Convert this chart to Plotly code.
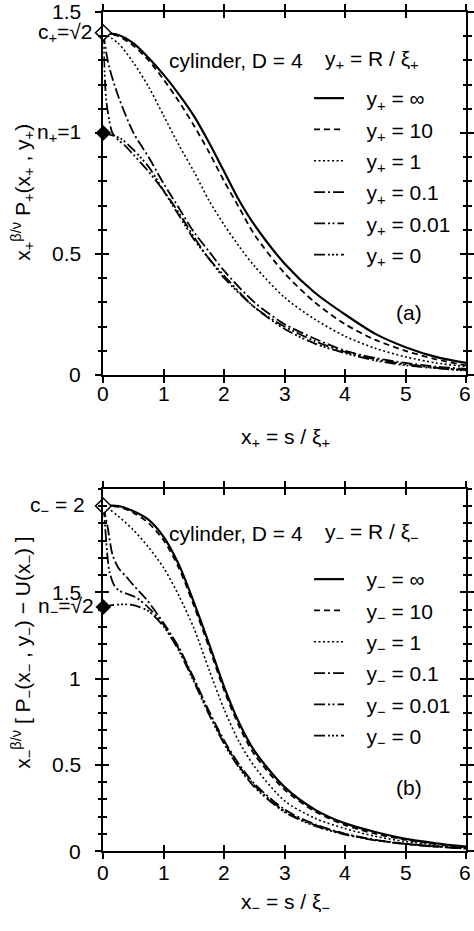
import plotly.graph_objects as go

W, H = 474, 931

# ---------------- data ----------------
x_ticks = [0, 1, 2, 3, 4, 5, 6]
a_yticks = [0, 0.5, 1, 1.5]
a_yticktext = ["0", "0.5", "n<sub>+</sub>=1", "1.5"]
b_yticks = [0, 0.5, 1, 1.5]
b_yticktext = ["0", "0.5", "1", "1.5"]
legend_plus = ["y<sub>+</sub> = ∞", "y<sub>+</sub> = 10", "y<sub>+</sub> = 1",
               "y<sub>+</sub> = 0.1", "y<sub>+</sub> = 0.01", "y<sub>+</sub> = 0"]
legend_minus = ["y<sub>−</sub> = ∞", "y<sub>−</sub> = 10", "y<sub>−</sub> = 1",
                "y<sub>−</sub> = 0.1", "y<sub>−</sub> = 0.01", "y<sub>−</sub> = 0"]

# panel (a)
a_inf_x = [0, 0.25, 0.5, 0.75, 1, 1.25, 1.5, 1.75, 2, 2.25, 2.5, 3, 3.5, 4, 4.5, 5, 5.5, 6]
a_inf_y = [1.414, 1.405, 1.37, 1.31, 1.24, 1.16, 1.07, 0.96, 0.84, 0.72, 0.62, 0.46, 0.34, 0.25, 0.17, 0.115, 0.075, 0.05]
a_10_x = [0, 0.25, 0.5, 0.75, 1, 1.25, 1.5, 1.75, 2, 2.25, 2.5, 3, 3.5, 4, 4.5, 5, 5.5, 6]
a_10_y = [1.414, 1.40, 1.36, 1.30, 1.22, 1.13, 1.03, 0.92, 0.80, 0.69, 0.58, 0.42, 0.30, 0.21, 0.145, 0.10, 0.065, 0.04]
a_1_x = [0, 0.25, 0.5, 0.75, 1, 1.25, 1.5, 1.75, 2, 2.25, 2.5, 3, 3.5, 4, 4.5, 5, 5.5, 6]
a_1_y = [1.414, 1.37, 1.29, 1.19, 1.07, 0.95, 0.84, 0.72, 0.62, 0.53, 0.45, 0.32, 0.23, 0.16, 0.11, 0.075, 0.05, 0.035]
a_01_x = [0, 0.05, 0.1, 0.25, 0.5, 0.75, 1, 1.25, 1.5, 1.75, 2, 2.5, 3, 3.5, 4, 4.5, 5, 5.5, 6]
a_01_y = [1.414, 1.33, 1.27, 1.15, 1.00, 0.90, 0.79, 0.69, 0.59, 0.51, 0.43, 0.30, 0.21, 0.15, 0.10, 0.07, 0.05, 0.035, 0.025]
a_001_x = [0, 0.02, 0.05, 0.1, 0.15, 0.25, 0.35, 0.5, 0.75, 1, 1.25, 1.5, 1.75, 2, 2.5, 3, 3.5, 4, 4.5, 5, 5.5, 6]
a_001_y = [1.414, 1.25, 1.13, 1.05, 1.00, 0.97, 0.95, 0.91, 0.84, 0.76, 0.67, 0.57, 0.48, 0.41, 0.28, 0.20, 0.14, 0.095, 0.065, 0.045, 0.03, 0.02]
a_0_x = [0, 0.15, 0.3, 0.5, 0.75, 1, 1.25, 1.5, 1.75, 2, 2.5, 3, 3.5, 4, 4.5, 5, 5.5, 6]
a_0_y = [1.0, 0.99, 0.975, 0.93, 0.86, 0.76, 0.66, 0.56, 0.48, 0.40, 0.28, 0.19, 0.13, 0.09, 0.06, 0.04, 0.028, 0.018]

# panel (b)
b_inf_x = [0, 0.25, 0.5, 0.75, 1, 1.25, 1.5, 1.75, 2, 2.25, 2.5, 3, 3.5, 4, 4.5, 5, 5.5, 6]
b_inf_y = [2.0, 2.0, 1.97, 1.92, 1.82, 1.66, 1.44, 1.20, 0.95, 0.74, 0.58, 0.37, 0.24, 0.16, 0.11, 0.07, 0.045, 0.025]
b_10_x = [0, 0.25, 0.5, 0.75, 1, 1.25, 1.5, 1.75, 2, 2.25, 2.5, 3, 3.5, 4, 4.5, 5, 5.5, 6]
b_10_y = [2.0, 1.995, 1.96, 1.90, 1.80, 1.64, 1.42, 1.18, 0.93, 0.72, 0.56, 0.355, 0.23, 0.15, 0.10, 0.065, 0.04, 0.022]
b_1_x = [0, 0.1, 0.25, 0.5, 0.75, 1, 1.25, 1.5, 1.75, 2, 2.25, 2.5, 3, 3.5, 4, 4.5, 5, 5.5, 6]
b_1_y = [2.0, 1.98, 1.94, 1.86, 1.76, 1.64, 1.48, 1.29, 1.05, 0.82, 0.63, 0.49, 0.29, 0.19, 0.13, 0.085, 0.055, 0.035, 0.02]
b_01_x = [0, 0.07, 0.15, 0.25, 0.38, 0.5, 0.71, 1, 1.25, 1.5, 1.75, 2, 2.25, 2.5, 3, 3.5, 4, 4.5, 5, 5.5, 6]
b_01_y = [2.0, 1.88, 1.72, 1.64, 1.59, 1.54, 1.46, 1.32, 1.18, 1.00, 0.81, 0.64, 0.50, 0.39, 0.24, 0.155, 0.10, 0.065, 0.042, 0.027, 0.016]
b_001_x = [0, 0.03, 0.06, 0.1, 0.18, 0.26, 0.4, 0.54, 0.75, 1, 1.25, 1.5, 1.75, 2, 2.25, 2.5, 3, 3.5, 4, 4.5, 5, 5.5, 6]
b_001_y = [2.0, 1.88, 1.74, 1.62, 1.54, 1.51, 1.49, 1.47, 1.41, 1.31, 1.17, 0.99, 0.80, 0.63, 0.49, 0.38, 0.23, 0.15, 0.098, 0.064, 0.041, 0.026, 0.015]
b_0_x = [0, 0.15, 0.38, 0.55, 0.75, 1, 1.25, 1.5, 1.75, 2, 2.25, 2.5, 3, 3.5, 4, 4.5, 5, 5.5, 6]
b_0_y = [1.414, 1.425, 1.43, 1.42, 1.39, 1.30, 1.16, 0.98, 0.79, 0.62, 0.48, 0.37, 0.225, 0.145, 0.095, 0.062, 0.04, 0.025, 0.014]

# special boundary values
a_c, a_n = 1.4142, 1.0
b_c, b_n = 2.0, 1.4142

# ---------------- styles ----------------
FONT = "Liberation Sans, Arial, Helvetica, sans-serif"
FS = 21
NB = "\u00a0\u00a0\u00a0"
dashes = ["solid", "6px,4px", "2px,2.5px", "11px,3px,2px,3px",
          "11px,3px,2px,2.5px,2px,3px", "11px,3px,2px,2px,2px,2px,2px,3px"]
widths = [2.2, 1.8, 1.6, 1.8, 1.8, 1.8]

fig = go.Figure()

a_series = [(a_inf_x, a_inf_y), (a_10_x, a_10_y), (a_1_x, a_1_y),
            (a_01_x, a_01_y), (a_001_x, a_001_y), (a_0_x, a_0_y)]
b_series = [(b_inf_x, b_inf_y), (b_10_x, b_10_y), (b_1_x, b_1_y),
            (b_01_x, b_01_y), (b_001_x, b_001_y), (b_0_x, b_0_y)]

for i, (xs, ys) in enumerate(a_series):
    fig.add_trace(go.Scatter(x=xs, y=ys, mode="lines", name=NB + legend_plus[i],
                             line=dict(color="black", width=widths[i], dash=dashes[i], shape="spline", smoothing=0.8),
                             xaxis="x", yaxis="y", legend="legend", legendgroup="a%d" % i))
for i, (xs, ys) in enumerate(b_series):
    fig.add_trace(go.Scatter(x=xs, y=ys, mode="lines", name=NB + legend_minus[i],
                             line=dict(color="black", width=widths[i], dash=dashes[i], shape="spline", smoothing=0.8),
                             xaxis="x2", yaxis="y2", legend="legend2", legendgroup="b%d" % i))

# diamonds at x = 0
fig.add_trace(go.Scatter(x=[0], y=[a_c], mode="markers", showlegend=False, cliponaxis=False,
                         marker=dict(symbol="diamond", size=12, color="white", line=dict(color="black", width=1.5)),
                         xaxis="x", yaxis="y"))
fig.add_trace(go.Scatter(x=[0], y=[a_n], mode="markers", showlegend=False, cliponaxis=False,
                         marker=dict(symbol="diamond", size=12, color="black"), xaxis="x", yaxis="y"))
fig.add_trace(go.Scatter(x=[0], y=[b_c], mode="markers", showlegend=False, cliponaxis=False,
                         marker=dict(symbol="diamond", size=12, color="white", line=dict(color="black", width=1.5)),
                         xaxis="x2", yaxis="y2"))
fig.add_trace(go.Scatter(x=[0], y=[b_n], mode="markers", showlegend=False, cliponaxis=False,
                         marker=dict(symbol="diamond", size=12, color="black"), xaxis="x2", yaxis="y2"))

# dummy traces for overlay axes (inner half of the crossing ticks)
fig.add_trace(go.Scatter(x=[None], y=[None], showlegend=False, xaxis="x3", yaxis="y3"))
fig.add_trace(go.Scatter(x=[None], y=[None], showlegend=False, xaxis="x4", yaxis="y4"))

xd = [104 / W, 469 / W]
yd_a = [1 - 375 / H, 1 - 12 / H]
yd_b = [1 - 851 / H, 1 - 488.75 / H]

def xax(domain, anchor, ticks, overlay=None):
    d = dict(domain=domain, range=[0, 6], anchor=anchor, showgrid=False, zeroline=False,
             showline=True, linecolor="black", linewidth=2, mirror="allticks",
             ticks=ticks, ticklen=6, tickwidth=1.5, tickcolor="black",
             tickvals=x_ticks, showticklabels=False)
    if overlay:
        d["overlaying"] = overlay
    return d

def yax(domain, anchor, rng, tickvals, ticks, overlay=None):
    d = dict(domain=domain, range=rng, anchor=anchor, showgrid=False, zeroline=False,
             showline=True, linecolor="black", linewidth=2, mirror="allticks",
             ticks=ticks, ticklen=6, tickwidth=1.5, tickcolor="black",
             tickvals=tickvals, showticklabels=False,
             minor=dict(dtick=0.1, tick0=0, ticklen=3.5, tickwidth=1.5, tickcolor="black", ticks=ticks))
    if overlay:
        d["overlaying"] = overlay
    return d

fig.update_layout(
    width=W, height=H, margin=dict(l=0, r=0, t=0, b=0),
    paper_bgcolor="white", plot_bgcolor="white",
    font=dict(family=FONT, size=FS, color="black"),
    xaxis=xax(xd, "y", "outside"),
    yaxis=yax(yd_a, "x", [0, 1.5], a_yticks, "outside"),
    xaxis2=xax(xd, "y2", "outside"),
    yaxis2=yax(yd_b, "x2", [0, 2.1], b_yticks, "outside"),
    xaxis3=xax(xd, "y3", "inside", overlay="x"),
    yaxis3=yax(yd_a, "x3", [0, 1.5], a_yticks, "inside", overlay="y"),
    xaxis4=xax(xd, "y4", "inside", overlay="x2"),
    yaxis4=yax(yd_b, "x4", [0, 2.1], b_yticks, "inside", overlay="y2"),
    legend=dict(x=311 / W, y=1 - 78 / H, xanchor="left", yanchor="top", bgcolor="rgba(0,0,0,0)",
                font=dict(family=FONT, size=FS), tracegroupgap=1, itemwidth=30),
    legend2=dict(x=311 / W, y=1 - 559 / H, xanchor="left", yanchor="top", bgcolor="rgba(0,0,0,0)",
                 font=dict(family=FONT, size=FS), tracegroupgap=1, itemwidth=30),
    showlegend=True,
)

def ann(text, px, py, xanchor="center", angle=0, size=FS):
    fig.add_annotation(text=text, x=px / W, y=1 - py / H, xref="paper", yref="paper",
                       xanchor=xanchor, yanchor="middle", showarrow=False, textangle=angle,
                       font=dict(family=FONT, size=size, color="black"))

# x tick labels (placed on the data scale of each x axis)
for xaxis_ref, py in (("x", 393), ("x2", 872)):
    for v in x_ticks:
        fig.add_annotation(text=str(v), x=v, xref=xaxis_ref, y=1 - py / H, yref="paper",
                           xanchor="center", yanchor="middle", showarrow=False,
                           xshift=-1 if v == x_ticks[-1] else 0,
                           font=dict(family=FONT, size=FS, color="black"))

# y tick labels (placed on the data scale of each y axis)
for yaxis_ref, vals, texts in (("y", a_yticks, a_yticktext), ("y2", b_yticks, b_yticktext)):
    for v, t in zip(vals, texts):
        fig.add_annotation(text=t, x=84 / W, xref="paper", y=v, yref=yaxis_ref,
                           xanchor="right", yanchor="middle", showarrow=False,
                           font=dict(family=FONT, size=FS, color="black"))

# labels of special values
fig.add_annotation(text="c<sub>+</sub>=√2", x=96 / W, xref="paper", y=a_c, yref="y",
                   xanchor="right", yanchor="middle", showarrow=False, font=dict(family=FONT, size=FS))
fig.add_annotation(text="c<sub>−</sub> = 2", x=88 / W, xref="paper", y=b_c, yref="y2",
                   xanchor="right", yanchor="middle", showarrow=False, font=dict(family=FONT, size=FS))
fig.add_annotation(text="n<sub>−</sub>=√2", x=97 / W, xref="paper", y=b_n, yref="y2",
                   xanchor="right", yanchor="middle", showarrow=False, font=dict(family=FONT, size=FS))

# in-plot texts
ann("cylinder, D = 4", 237, 60)
ann("y<sub>+</sub> = R / ξ<sub>+</sub>", 374, 60)
ann("(a)", 412, 312)
ann("cylinder, D = 4", 237, 533)
ann("y<sub>−</sub> = R / ξ<sub>−</sub>", 374, 533)
ann("(b)", 412, 787)

# axis titles
ann("x<sub>+</sub> = s / ξ<sub>+</sub>", 287, 438)
ann("x<sub>−</sub> = s / ξ<sub>−</sub>", 287, 903)
ann("x<sub>+</sub><sup>β/ν</sup> P<sub>+</sub>(x<sub>+</sub> , y<sub>+</sub>)", 22, 192, angle=-90)
ann("x<sub>−</sub><sup>β/ν</sup> [ P<sub>−</sub>(x<sub>−</sub> , y<sub>−</sub>) − U(x<sub>−</sub>) ]", 22, 652, angle=-90)

fig.write_html("out.html", config={"displayModeBar": False},
               post_script="document.body.style.margin='0';document.body.style.padding='0';"
                           "document.body.style.overflow='hidden';"
                           "document.documentElement.style.overflow='hidden';")
